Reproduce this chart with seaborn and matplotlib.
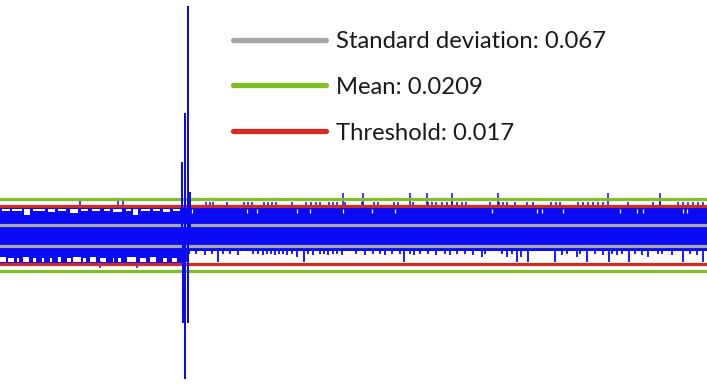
import seaborn as sns
import pandas as pd
import matplotlib.pyplot as plt
from matplotlib.lines import Line2D

# rótulos e níveis de referência
legend_labels = ["Standard deviation: 0.067", "Mean: 0.0209", "Threshold: 0.017"]
std_level = 0.0061
mean_level = 0.0209
threshold_level = 0.017

# faixa densa do sinal: trecho antes e depois do surto
band_start = [0, 184]
band_end = [184, 707]
band_top = [0.0157, 0.0157]
band_bottom = [-0.0163, -0.0093]

# entalhes (picos que não chegaram ao topo/fundo) no trecho esquerdo
left_top_gap_x0 = [2, 12, 24, 33, 48, 58, 70, 81, 92, 104, 113, 126, 133, 141, 153, 163, 173]
left_top_gap_x1 = [10, 22, 30, 45, 55, 66, 78, 88, 100, 110, 122, 131, 138, 150, 160, 170, 180]
left_top_gap_low = [0.0140, 0.0138, 0.0118, 0.0140, 0.0136, 0.0140, 0.0128, 0.0140, 0.0138,
                    0.0140, 0.0134, 0.0140, 0.0118, 0.0138, 0.0140, 0.0136, 0.0140]
left_bot_gap_x0 = [0, 8, 17, 23, 33, 42, 50, 58, 67, 73, 83, 90, 100, 113, 118, 127, 140, 150, 163, 172]
left_bot_gap_x1 = [6, 14, 19, 29, 36, 44, 52, 61, 71, 81, 86, 96, 106, 114, 121, 136, 146, 156, 167, 177]
left_bot_gap_high = [-0.0130, -0.0132, -0.0134, -0.0130, -0.0134, -0.0132, -0.0134, -0.0130, -0.0132,
                     -0.0128, -0.0134, -0.0130, -0.0132, -0.0136, -0.0134, -0.0128, -0.0132, -0.0130,
                     -0.0134, -0.0132]

# pequenos picos fora da faixa
left_up_x = [80, 118, 123]
left_up_y = [0.0215, 0.0215, 0.0215]
left_down_x = [100, 137]
left_down_y = [-0.0190, -0.0190]

right_gap_x = [192, 247, 257, 297, 310, 343, 372, 395, 492, 537, 542, 563, 620, 637, 643, 683, 687]

right_up_x = [206, 210, 213, 227, 244, 248, 252, 264, 268, 272, 276, 292, 306, 311, 316, 320, 329,
              333, 337, 345, 362, 374, 378, 394, 398, 413, 428, 432, 436, 442, 447, 452, 457, 462,
              466, 490, 499, 503, 507, 515, 527, 533, 551, 556, 560, 578, 583, 588, 593, 598, 603,
              628, 653, 660, 678, 683, 688, 693, 698, 703]
tall_up_x = [343, 363, 410, 427, 452, 498, 608, 660]
tall_up_y = [0.0244, 0.0244, 0.0244, 0.0244, 0.0244, 0.0244, 0.0244, 0.0244]

right_spike_x = [187, 189, 196, 205, 212, 218, 223, 230, 238, 253, 258, 263, 267, 271, 275, 279,
                 283, 287, 292, 297, 304, 308, 313, 320, 324, 328, 333, 337, 342, 356, 365, 373,
                 380, 385, 392, 400, 404, 410, 414, 420, 428, 436, 445, 450, 457, 465, 473, 482,
                 485, 502, 507, 512, 517, 521, 528, 555, 562, 567, 577, 580, 587, 595, 603, 609,
                 612, 617, 622, 629, 635, 642, 648, 658, 662, 672, 683, 690, 697, 703]
right_spike_low = [-0.0157, -0.0112, -0.0112, -0.0118, -0.0112, -0.0157, -0.0112, -0.0112,
                   -0.0118, -0.0112, -0.0112, -0.0118, -0.0112, -0.0112, -0.0118, -0.0112,
                   -0.0112, -0.0118, -0.0112, -0.0125, -0.0157, -0.0112, -0.0118, -0.0112,
                   -0.0112, -0.0118, -0.0112, -0.0112, -0.0118, -0.0112, -0.0118, -0.0112,
                   -0.0112, -0.0118, -0.0112, -0.0112, -0.0157, -0.0112, -0.0118, -0.0112,
                   -0.0112, -0.0118, -0.0112, -0.0118, -0.0112, -0.0112, -0.0118, -0.0125,
                   -0.0112, -0.0112, -0.0125, -0.0112, -0.0157, -0.0130, -0.0157, -0.0157,
                   -0.0118, -0.0112, -0.0125, -0.0112, -0.0157, -0.0112, -0.0118, -0.0157,
                   -0.0112, -0.0118, -0.0112, -0.0157, -0.0112, -0.0118, -0.0125, -0.0112,
                   -0.0112, -0.0118, -0.0157, -0.0112, -0.0118, -0.0157]

# surto (evento) no meio do sinal
burst_x = [178, 181.7, 181.7, 181.7, 183.3, 183.3, 183.3, 185, 185, 185, 185, 188.3, 188.3,
           188.3, 188.3, 190, 190, 190, 192]
burst_y = [0.0, 0.0, 0.0418, 0.0, 0.0, -0.0505, 0.0, 0.0, 0.0703, -0.0830, 0.0, 0.0, 0.1324,
           -0.0505, 0.0, 0.0, 0.0244, 0.0, 0.0]

blue = "#0a0af5"
gray = "#a8a8a8"
green = "#80c026"
red = "#d42a22"

sns.set_theme(style="white")
plt.rcParams["font.family"] = ["Lato", "DejaVu Sans"]

fig = plt.figure(figsize=(7.07, 3.85), dpi=100)
ax = fig.add_axes([0, 0, 1, 1])

# faixa principal
for x0, x1, top, bot in zip(band_start, band_end, band_top, band_bottom):
    ax.fill_between([x0, x1], [top, top], [bot, bot], color=blue, lw=0, zorder=1)

# entalhes brancos
for x0, x1, low in zip(left_top_gap_x0, left_top_gap_x1, left_top_gap_low):
    ax.fill_between([x0, x1], [0.0150, 0.0150], [low, low], color="white", lw=0, zorder=2)
for x0, x1, high in zip(left_bot_gap_x0, left_bot_gap_x1, left_bot_gap_high):
    ax.fill_between([x0, x1], [high, high], [-0.0157, -0.0157], color="white", lw=0, zorder=2)
ax.vlines(right_gap_x, 0.0128, 0.0150, color="white", lw=0.9, zorder=2)

# picos pequenos
ax.vlines(right_up_x, 0.0150, 0.0192, color=blue, lw=1.1, zorder=2)
ax.vlines(tall_up_x, 0.0150, tall_up_y, color=blue, lw=1.1, zorder=2)
ax.vlines(left_up_x, 0.0150, left_up_y, color=blue, lw=1.1, zorder=2)
ax.vlines(left_down_x, -0.0150, left_down_y, color=blue, lw=1.1, zorder=2)
ax.vlines(right_spike_x, -0.0090, right_spike_low, color=blue, lw=1.3, zorder=2)

# linhas de referência
for level, color in [(std_level, gray), (threshold_level, red), (mean_level, green)]:
    ax.axhline(level, color=color, lw=2.3, zorder=3)
    ax.axhline(-level, color=color, lw=2.3, zorder=3)

# surto
burst = pd.DataFrame({"x": burst_x, "y": burst_y})
sns.lineplot(data=burst, x="x", y="y", sort=False, estimator=None, color=blue, lw=1.4,
             ax=ax, zorder=4)

ax.set_xlim(0, 707)
ax.set_ylim(-0.0871, 0.1365)
ax.set_axis_off()

handles = [Line2D([], [], color=c, lw=3.8) for c in [gray, green, red]]
ax.legend(handles, legend_labels, loc="upper left", bbox_to_anchor=(233 / 707, 1 - 31 / 385),
          frameon=False, fontsize=17.2, handlelength=3.9, handletextpad=0.42, labelspacing=1.04,
          borderpad=0, borderaxespad=0, labelcolor="#1a1a1a")

plt.savefig("out.png", dpi=100)
